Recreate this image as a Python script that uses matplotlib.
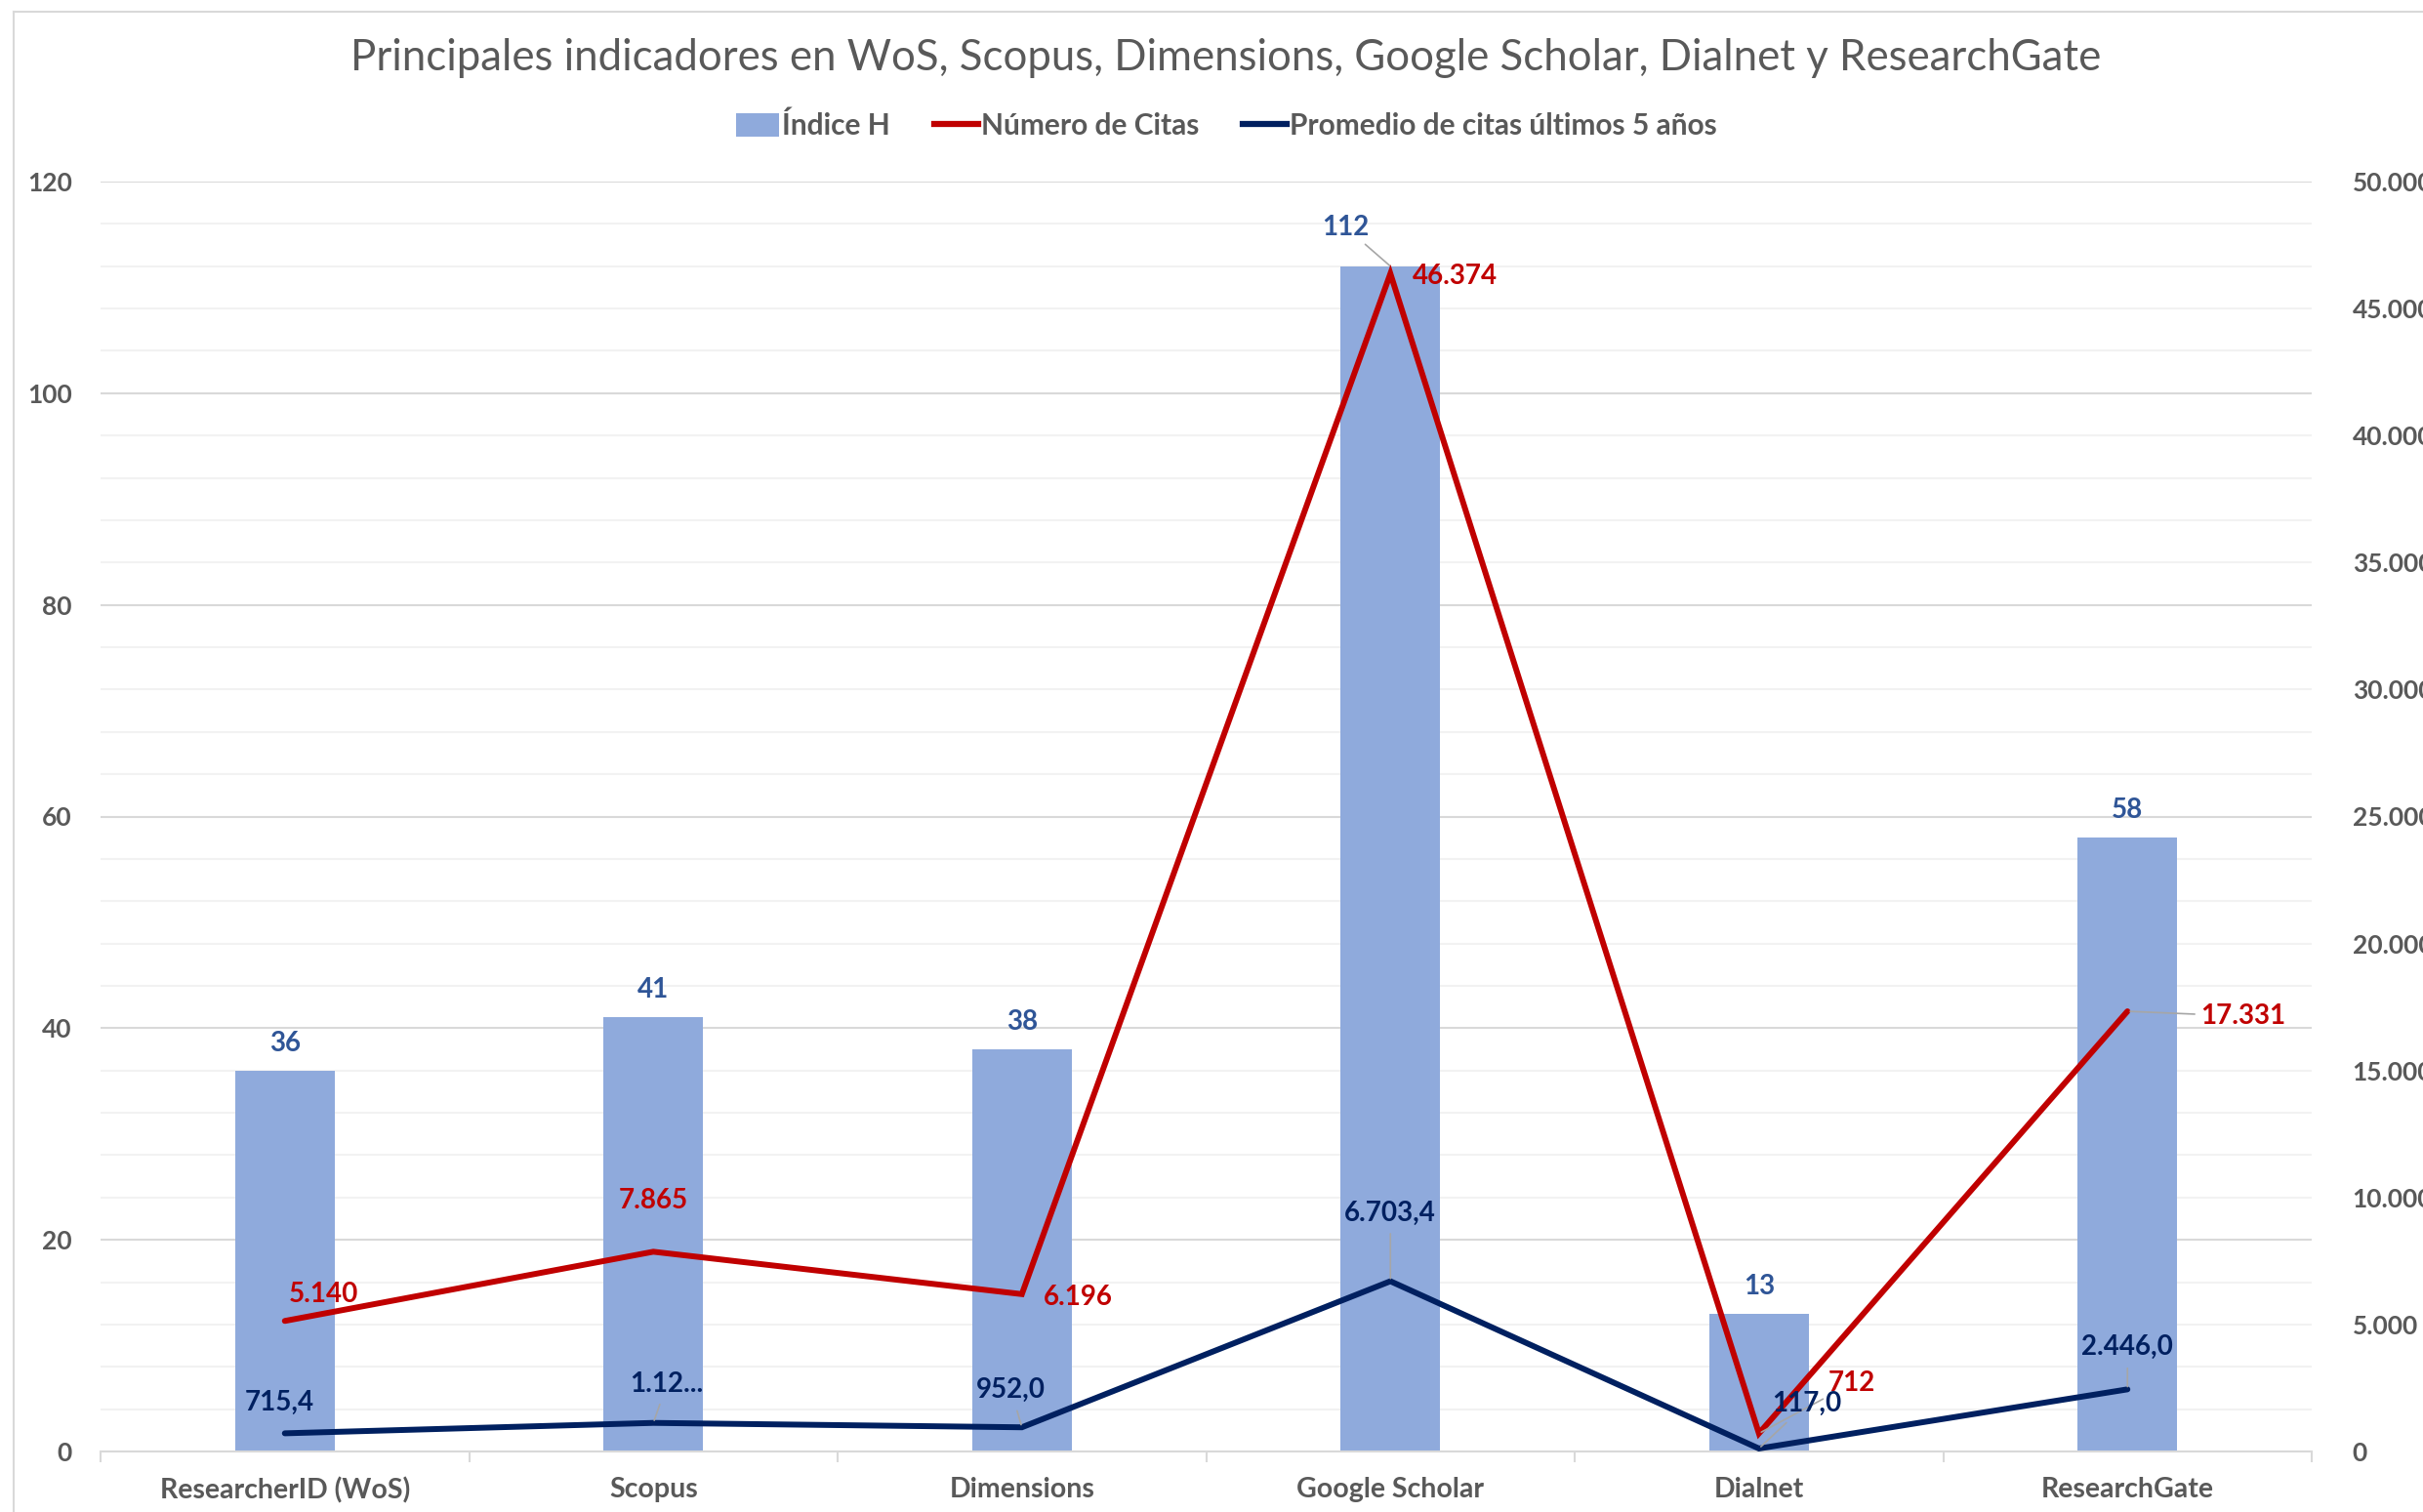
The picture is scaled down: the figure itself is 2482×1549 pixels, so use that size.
import matplotlib
matplotlib.use("Agg")
import matplotlib.pyplot as plt
from matplotlib.patches import Patch
from matplotlib.lines import Line2D
import numpy as np

plt.rcParams['font.family'] = ['Lato', 'DejaVu Sans']

# ---- data ----
categories = ["ResearcherID (WoS)", "Scopus", "Dimensions", "Google Scholar", "Dialnet", "ResearchGate"]
indice_h = [36, 41, 38, 112, 13, 58]
num_citas = [5140, 7865, 6196, 46374, 712, 17331]
promedio_5 = [715.4, 1125.0, 952.0, 6703.4, 117.0, 2446.0]
left_ticks = [0, 20, 40, 60, 80, 100, 120]
right_ticks = [0, 5000, 10000, 15000, 20000, 25000, 30000, 35000, 40000, 45000, 50000]
title = "Principales indicadores en WoS, Scopus, Dimensions, Google Scholar, Dialnet y ResearchGate"
legend_labels = ["Índice H", "Número de Citas", "Promedio de citas últimos 5 años"]


def fmt_int(v):
    return f"{int(round(v)):,}".replace(",", ".")


def fmt_dec(v):
    s = f"{v:,.1f}"
    return s.replace(",", "X").replace(".", ",").replace("X", ".")


BAR = "#8FAADC"
RED = "#C00000"
NAVY = "#002060"
GRAY = "#595959"
BARLBL = "#2F5597"
LBLSIZE = 20

fig = plt.figure(figsize=(24.82, 15.49), dpi=100)
ax = fig.add_axes([103 / 2482, 1 - 1487 / 1549, (2368 - 103) / 2482, (1487 - 186) / 1549])
x = np.arange(len(categories))

# grid
ax.set_ylim(0, 120)
ax.set_xlim(-0.5, len(categories) - 0.5)
ax.set_yticks(left_ticks)
ax.set_yticks(np.arange(0, 121, 4), minor=True)
ax.yaxis.grid(True, which='major', color='#D9D9D9', lw=1.5, zorder=0)
ax.yaxis.grid(True, which='minor', color='#F2F2F2', lw=1.5, zorder=0)
ax.set_axisbelow(True)
ax.tick_params(axis='y', which='both', length=0, pad=21, labelsize=19, labelcolor=GRAY)
for lbl in ax.get_yticklabels():
    lbl.set_fontweight('bold')

bars = ax.bar(x, indice_h, width=0.27, color=BAR, zorder=2)

# x axis
for s in ['top', 'right', 'left']:
    ax.spines[s].set_visible(False)
ax.spines['bottom'].set_color('#D9D9D9')
ax.spines['bottom'].set_linewidth(1.5)
ax.set_xticks(x)
ax.set_xticklabels(categories, fontsize=20.5, fontweight='bold', color=GRAY)
ax.set_xticks(np.arange(-0.5, len(categories), 1.0), minor=True)
ax.tick_params(axis='x', which='major', length=0, pad=19)
ax.tick_params(axis='x', which='minor', length=8, color='#D9D9D9', width=1.5, direction='out')

# bar labels
bar_offsets = [(0, 28), (0, 28), (0, 28), (-46, 40), (0, 28), (0, 28)]
for i, v in enumerate(indice_h):
    kw = {}
    if i == 3:
        kw['arrowprops'] = dict(arrowstyle='-', color='#A6A6A6', lw=1.2, shrinkA=2, shrinkB=0)
    ax.annotate(str(v), (x[i], v), xytext=bar_offsets[i], textcoords='offset pixels',
                ha='center', va='center', fontsize=LBLSIZE, fontweight='bold', color=BARLBL,
                zorder=6, **kw)

# secondary axis
ax2 = ax.twinx()
ax2.set_ylim(0, 50000)
ax2.set_yticks(right_ticks)
ax2.set_yticklabels([fmt_int(t) for t in right_ticks], fontsize=19, fontweight='bold', color=GRAY)
ax2.tick_params(axis='y', length=0, pad=30)
for s in ['top', 'right', 'left', 'bottom']:
    ax2.spines[s].set_visible(False)

ax2.plot(x, num_citas, color=RED, lw=4.3, solid_capstyle='round', solid_joinstyle='miter', zorder=4)
ax2.plot(x, promedio_5, color=NAVY, lw=4.3, solid_capstyle='round', solid_joinstyle='miter', zorder=4)

red_offsets = [(40, 27), (0, 52), (58, -3), (66, -3), (95, 51), (118, -5)]
red_leader = [False, False, False, False, True, True]
for i, v in enumerate(num_citas):
    kw = {}
    if red_leader[i]:
        kw['arrowprops'] = dict(arrowstyle='-', color='#A6A6A6', lw=1.2, shrinkA=2, shrinkB=2)
    ax2.annotate(fmt_int(v), (x[i], v), xytext=red_offsets[i], textcoords='offset pixels',
                 ha='center', va='center', fontsize=LBLSIZE, fontweight='bold', color=RED, zorder=6, **kw)

navy_offsets = [(-5, 32), (14, 40), (-11, 38), (0, 70), (49, 46), (0, 43)]
navy_leader = [False, True, True, True, True, True]
navy_labels = [fmt_dec(v) for v in promedio_5]
navy_labels[1] = navy_labels[1][:4] + "..."
for i, v in enumerate(promedio_5):
    kw = {}
    if navy_leader[i]:
        kw['arrowprops'] = dict(arrowstyle='-', color='#A6A6A6', lw=1.2, shrinkA=4, shrinkB=2)
    ax2.annotate(navy_labels[i], (x[i], v), xytext=navy_offsets[i], textcoords='offset pixels',
                 ha='center', va='center', fontsize=LBLSIZE, fontweight='bold', color=NAVY, zorder=6, **kw)

# title
fig.text(1256 / 2482, 1 - 60 / 1549, title, ha='center', va='center', fontsize=31.5, color=GRAY)

# legend
handles = [Patch(facecolor=BAR, edgecolor='none'),
           Line2D([0], [0], color=RED, lw=4.5),
           Line2D([0], [0], color=NAVY, lw=4.5)]
leg = fig.legend(handles, legend_labels, loc='center', bbox_to_anchor=(1256 / 2482, 1 - 129 / 1549),
                 ncol=3, frameon=False, handlelength=1.5, handletextpad=0.1, columnspacing=1.5,
                 handleheight=0.9, prop={'size': 21.5, 'weight': 'bold'})
for t in leg.get_texts():
    t.set_color(GRAY)

# chart frame
fig.add_artist(Line2D([14 / 2482, 14 / 2482], [0, 1 - 12 / 1549], transform=fig.transFigure,
                      color='#D9D9D9', lw=1.5))
fig.add_artist(Line2D([14 / 2482, 1], [1 - 12 / 1549, 1 - 12 / 1549], transform=fig.transFigure,
                      color='#D9D9D9', lw=1.5))

fig.savefig("out.png", dpi=100, facecolor='white')
